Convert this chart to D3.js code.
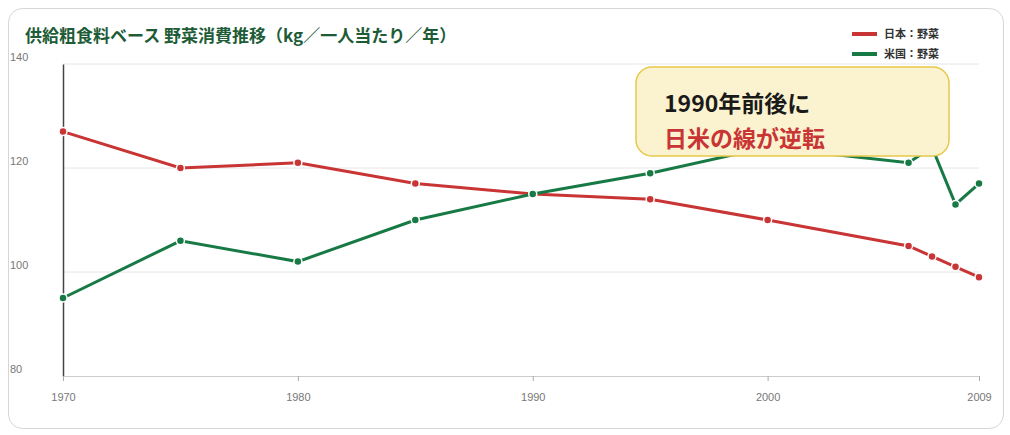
<!DOCTYPE html><html><head><meta charset="utf-8"><script src="https://cdn.jsdelivr.net/npm/d3@7"></script>
<style>body{margin:0;background:#fff;font-family:"Noto Sans CJK JP","Noto Sans",sans-serif}</style></head><body><svg id="c" width="1010" height="435"></svg><script>
const years=[1970,1975,1980,1985,1990,1995,2000,2006,2007,2008,2009];
const japan=[127,120,121,117,115,114,110,105,103,101,99];
const usa=[95,106,102,110,115,119,124,121,124,113,117];
const yTicks=[80,100,120,140];
const xTicks=[1970,1980,1990,2000,2009];
const svg=d3.select("#c");
svg.append("rect").attr("x",8.5).attr("y",8.5).attr("width",995).attr("height",420).attr("rx",14).attr("fill","#fff").attr("stroke","#d6d6d6");
const x=d3.scaleLinear().domain([1970,2009]).range([63,979]);
const y=d3.scaleLinear().domain([80,140]).range([376,64]);
svg.append("g").selectAll("line").data(yTicks.slice(1)).join("line").attr("x1",63).attr("x2",979).attr("y1",d=>y(d)).attr("y2",d=>y(d)).attr("stroke","#e6e6e6");
const ya=svg.append("g").attr("transform","translate(63,0)").call(d3.axisLeft(y).tickValues(yTicks).tickSize(0).tickPadding(22));
ya.select(".domain").attr("stroke","#444").attr("stroke-width",1.5);
ya.selectAll("text").attr("fill","#777").attr("font-size",11).attr("text-anchor","start").attr("dx",-8).attr("dy",-4);
ya.selectAll(".tick text").attr("x",-45);
const xa=svg.append("g").attr("transform","translate(0,376)").call(d3.axisBottom(x).tickValues(xTicks).tickFormat(d3.format("d")).tickSize(5).tickPadding(12));
xa.select(".domain").attr("stroke","#ccc");
xa.selectAll("line").attr("stroke","#aaa");
xa.selectAll("text").attr("fill","#777").attr("font-size",11);
function series(vals,col){
 const g=svg.append("g");
 g.append("path").datum(vals).attr("fill","none").attr("stroke",col).attr("stroke-width",3)
  .attr("d",d3.line().x((d,i)=>x(years[i])).y(d=>y(d)));
 g.selectAll("circle").data(vals).join("circle").attr("cx",(d,i)=>x(years[i])).attr("cy",d=>y(d)).attr("r",4).attr("fill",col).attr("stroke","#fff").attr("stroke-width",1.5);
}
series(japan,"#c93434");
series(usa,"#177a45");
svg.append("text").attr("x",25).attr("y",42).attr("fill","#1d5c36").attr("font-size",17).attr("font-weight","bold").text("供給粗食料ベース 野菜消費推移（kg／一人当たり／年）");
const leg=[["日本：野菜","#c93434"],["米国：野菜","#177a45"]];
leg.forEach((l,i)=>{svg.append("line").attr("x1",852).attr("x2",877).attr("y1",34+i*20).attr("y2",34+i*20).attr("stroke",l[1]).attr("stroke-width",4);
 svg.append("text").attr("x",884).attr("y",38+i*20).attr("font-size",11).attr("font-weight","bold").attr("fill","#333").text(l[0]);});
svg.append("rect").attr("x",636).attr("y",67).attr("width",313).attr("height",89).attr("rx",16).attr("fill","#fbf3cf").attr("stroke","#e8c84a").attr("stroke-width",1.5);
svg.append("text").attr("x",664).attr("y",112).attr("font-size",23).attr("font-weight","bold").attr("fill","#1a1a1a").text("1990年前後に");
svg.append("text").attr("x",664).attr("y",147).attr("font-size",23).attr("font-weight","bold").attr("fill","#c93434").text("日米の線が逆転");
</script></body></html>
